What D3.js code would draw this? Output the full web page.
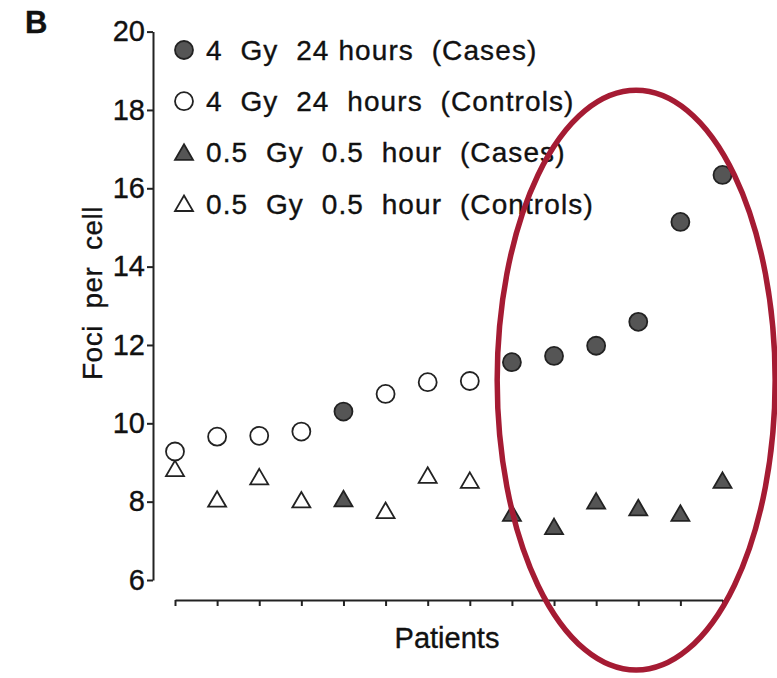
<!DOCTYPE html>
<html>
<head>
<meta charset="utf-8">
<script src="https://cdn.jsdelivr.net/npm/d3@7"></script>
<style>
  body { margin: 0; background: #fff; }
  text { font-family: "Liberation Sans", Arial, sans-serif; fill: #111; stroke: #111; stroke-width: 0.35px; }
</style>
</head>
<body>
<script>
// values, one entry per patient
var patients = [1, 2, 3, 4, 5, 6, 7, 8, 9, 10, 11, 12, 13, 14];
var foci4Gy = [9.28, 9.66, 9.68, 9.79, 10.30, 10.75, 11.05, 11.08, 11.56, 11.72, 11.98, 12.59, 15.14, 16.34];
var foci05Gy = [8.84, 8.06, 8.63, 8.04, 8.07, 7.77, 8.67, 8.54, 7.70, 7.36, 8.01, 7.84, 7.70, 8.54];
var isCase = [false, false, false, false, true, false, false, false, true, true, true, true, true, true];
var yTicks = [6, 8, 10, 12, 14, 16, 18, 20];
var legendLabels = [
  "4  Gy  24 hours  (Cases)",
  "4  Gy  24  hours  (Controls)",
  "0.5  Gy  0.5  hour  (Cases)",
  "0.5  Gy  0.5  hour  (Controls)"
];

var darkFill = "#555",
    ink = "#222";

var svg = d3.select("body").append("svg")
    .attr("width", 777)
    .attr("height", 678);

var x = d3.scalePoint().domain(patients).range([175, 722.5]);
var xIdx = d3.scaleLinear().domain([1, 14]).range([175, 722.5]);
var y = d3.scaleLinear().domain([6, 20]).range([580, 31.6]);

// triangle drawn around its bounding box centre
function tri(s) {
  return "M0," + (-s * 0.9) + "L" + s + "," + (s * 0.82) + "L" + (-s) + "," + (s * 0.82) + "Z";
}

// y axis
var yAxis = svg.append("g")
    .attr("transform", "translate(153,0)")
    .call(d3.axisLeft(y).tickValues(yTicks).tickSize(6).tickSizeOuter(0).tickPadding(2));
yAxis.selectAll("path, line").attr("stroke", ink).attr("stroke-width", 2);
yAxis.selectAll("text")
    .style("font-family", "Liberation Sans, Arial, sans-serif")
    .style("font-size", "29px")
    .attr("fill", "#111");

// x axis, ticks only
var xAxis = svg.append("g")
    .attr("transform", "translate(0,600)")
    .call(d3.axisBottom(x).tickSize(6).tickSizeOuter(0).tickFormat(""));
xAxis.selectAll("path, line").attr("stroke", ink).attr("stroke-width", 2);

svg.append("text")
    .attr("x", 447)
    .attr("y", 648)
    .attr("text-anchor", "middle")
    .style("font-size", "29px")
    .text("Patients");

svg.append("text")
    .attr("transform", "translate(102,293) rotate(-90)")
    .attr("text-anchor", "middle")
    .style("font-size", "28px")
    .style("letter-spacing", "0.5px")
    .style("white-space", "pre")
    .text("Foci  per  cell");

svg.append("text")
    .attr("x", 25)
    .attr("y", 33)
    .style("font-size", "31px")
    .style("font-weight", "bold")
    .text("B");

// points
svg.append("g").selectAll("path")
    .data(patients)
    .join("path")
    .attr("d", tri(9))
    .attr("transform", function(d, i) { return "translate(" + x(d) + "," + y(foci05Gy[i]) + ")"; })
    .attr("fill", function(d, i) { return isCase[i] ? darkFill : "#fff"; })
    .attr("stroke", ink)
    .attr("stroke-width", 1.8)
    .attr("stroke-linejoin", "miter");

svg.append("g").selectAll("circle")
    .data(patients)
    .join("circle")
    .attr("cx", function(d) { return x(d); })
    .attr("cy", function(d, i) { return y(foci4Gy[i]); })
    .attr("r", 9)
    .attr("fill", function(d, i) { return isCase[i] ? darkFill : "#fff"; })
    .attr("stroke", ink)
    .attr("stroke-width", 1.8);

// legend
var legend = svg.append("g").selectAll("g")
    .data(legendLabels)
    .join("g")
    .attr("transform", function(d, i) { return "translate(184," + (50 + i * 51.2) + ")"; });

legend.each(function(d, i) {
  var g = d3.select(this);
  var fill = (i % 2 === 0) ? darkFill : "#fff";
  if (i < 2) {
    g.append("circle").attr("r", 9).attr("fill", fill).attr("stroke", ink).attr("stroke-width", 1.8);
  } else {
    g.append("path").attr("d", tri(9)).attr("fill", fill).attr("stroke", ink).attr("stroke-width", 1.8);
  }
  g.append("text")
      .attr("x", 22)
      .attr("y", 10)
      .style("font-size", "28px")
      .style("letter-spacing", "1.1px")
      .style("white-space", "pre")
      .text(d);
});

// red highlight ellipse around the case patients
svg.append("ellipse")
    .attr("cx", xIdx(11.95))
    .attr("cy", y(11.1))
    .attr("rx", xIdx(11.95 + 3.3) - xIdx(11.95))
    .attr("ry", y(11.1 - 7.4) - y(11.1))
    .attr("fill", "none")
    .attr("stroke", "#a51b33")
    .attr("stroke-width", 5.5);
</script>
</body>
</html>
